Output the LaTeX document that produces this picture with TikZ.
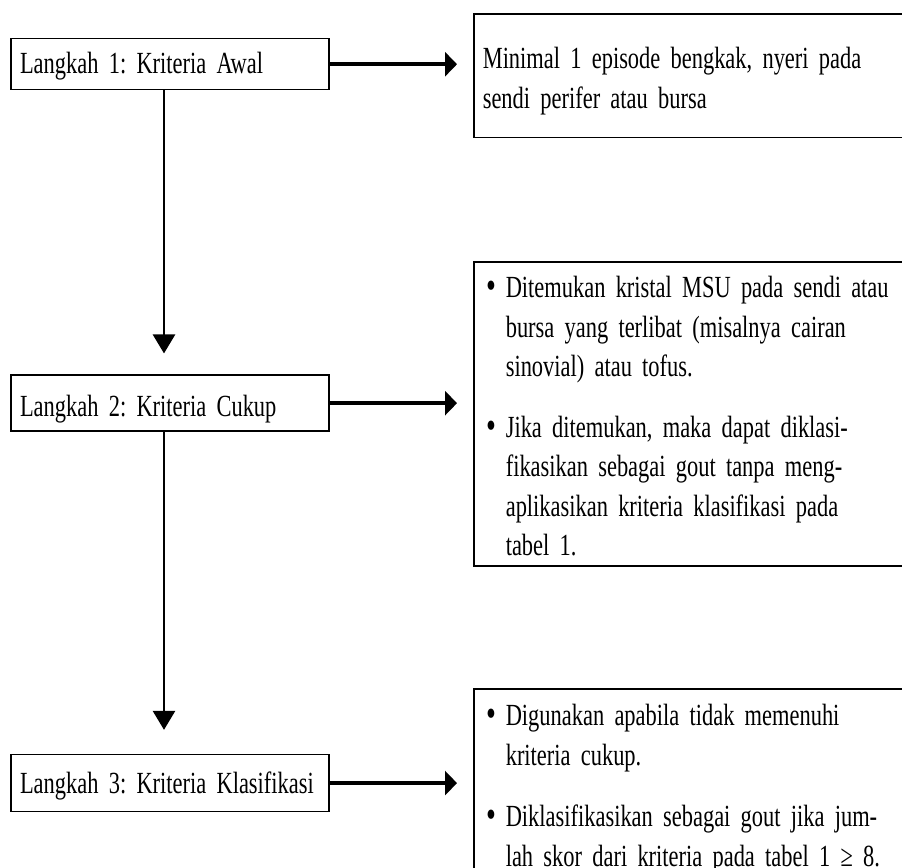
\documentclass[tikz,border=0pt]{standalone}
\usepackage{fontspec}
\setmainfont{Liberation Serif}[FakeStretch=0.73]
\usetikzlibrary{positioning,arrows.meta}

\newcommand{\boxfont}{\fontsize{17.5}{22.5}\selectfont\fontdimen2\font=3.4pt\relax\fontdimen3\font=0pt\relax\fontdimen4\font=0pt\relax\frenchspacing}
\tikzset{
  stepbox/.style={draw, line width=0.85pt, text width=6cm, align=left, inner xsep=0.18cm, inner ysep=0pt, font=\boxfont},
  infobox/.style={draw, line width=0.9pt, anchor=north west, text width=9.64cm, align=left, inner xsep=0.18cm, inner ysep=0pt, font=\boxfont},
  hflow/.style={line width=2.3pt, -{Triangle[length=0.24cm,width=0.48cm]}, shorten >=0.32cm},
  vflow/.style={line width=1.6pt, -{Triangle[length=0.38cm,width=0.44cm]}},
}
\newcommand{\bul}{\makebox[0.46cm][l]{\hspace{0.08cm}\raisebox{-0.02cm}{\fontsize{22}{22}\selectfont\textbullet}}}
\newcommand{\ind}{\hspace*{0.46cm}}
\newcommand{\topgap}[1]{\rule{0pt}{#1}}
\newcommand{\botgap}[1]{\rule[-#1]{0pt}{0pt}}

\begin{document}
\begin{tikzpicture}[x=0.02cm, y=-0.02cm]
  \useasboundingbox (0,0) rectangle (902,868);
  \clip (0,0) rectangle (902,868);

  % steps on the left
  \node [stepbox, anchor=north, text height=0.7cm, text depth=0.32cm] (step1) at (170,38) {\mbox{Langkah 1: Kriteria Awal}};
  \node [stepbox, text height=0.82cm, text depth=0.3cm, below=5.68cm of step1] (step2) {\mbox{Langkah 2: Kriteria Cukup}};
  \node [stepbox, text height=0.78cm, text depth=0.36cm, below=6.44cm of step2] (step3) {\mbox{Langkah 3: Kriteria Klasifikasi}};

  % criteria on the right
  \node [infobox] (info1) at (473,13) {\topgap{1.1cm}Minimal 1 episode bengkak, nyeri pada\\
    sendi perifer atau bursa\botgap{0.58cm}};
  \node [infobox] (info2) at (473,261) {\topgap{0.72cm}\bul Ditemukan kristal MSU pada sendi atau\\
    \ind bursa yang terlibat (misalnya cairan\\
    \ind sinovial) atau tofus.\\[0.42cm]
    \bul Jika ditemukan, maka dapat diklasi-\\
    \ind fikasikan sebagai gout tanpa meng-\\
    \ind aplikasikan kriteria klasifikasi pada\\
    \ind tabel 1.\botgap{0.2cm}};
  \node [infobox] (info3) at (473,688) {\topgap{0.74cm}\bul Digunakan apabila tidak memenuhi\\
    \ind kriteria cukup.\\[0.44cm]
    \bul Diklasifikasikan sebagai gout jika jum-\\
    \ind lah skor dari kriteria pada tabel 1 ≥ 8.\botgap{1cm}};

  \draw [vflow, shorten >=0.42cm] ([xshift=-0.12cm]step1.south) -- ([xshift=-0.12cm]step2.north);
  \draw [vflow, shorten >=0.48cm] ([xshift=-0.12cm]step2.south) -- ([xshift=-0.12cm]step3.north);

  \draw [hflow] (step1) -- (step1 -| info1.west);
  \draw [hflow] (step2) -- (step2 -| info2.west);
  \draw [hflow] (step3) -- (step3 -| info3.west);
\end{tikzpicture}
\end{document}
